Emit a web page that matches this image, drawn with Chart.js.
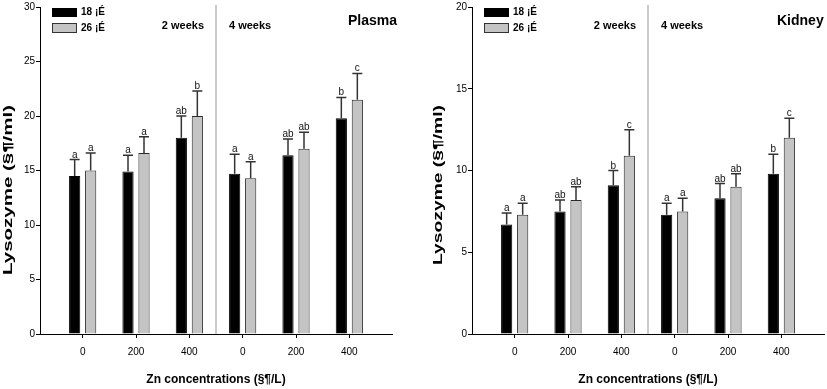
<!DOCTYPE html>
<html>
<head>
<meta charset="utf-8">
<script src="https://cdn.jsdelivr.net/npm/chart.js@4.4.0/dist/chart.umd.min.js"></script>
<style>
body { margin:0; background:#fff; width:827px; height:389px; overflow:hidden; position:relative; }
canvas { position:absolute; top:0; }
#plasma { left:0; }
#kidney { left:413px; }
</style>
</head>
<body>
<canvas id="plasma" width="413" height="389"></canvas>
<canvas id="kidney" width="414" height="389"></canvas>
<script>
// x categories: 3 Zn levels at 2 weeks, then at 4 weeks
var znLabels = ['0', '200', '400', '0', '200', '400'];
var seriesNames = ['18 \u00a1\u00c9', '26 \u00a1\u00c9'];
var periodNames = ['2 weeks', '4 weeks'];

// plasma lysozyme
var plasma18 = [14.5, 14.9, 18.0, 14.7, 16.4, 19.8];
var plasma18Err = [1.5, 1.5, 2.0, 1.8, 1.5, 1.9];
var plasma18Sig = ['a', 'a', 'ab', 'a', 'ab', 'b'];
var plasma26 = [15.0, 16.6, 20.0, 14.3, 17.0, 21.5];
var plasma26Err = [1.6, 1.5, 2.3, 1.5, 1.5, 2.4];
var plasma26Sig = ['a', 'a', 'b', 'a', 'ab', 'c'];

// kidney lysozyme
var kidney18 = [6.7, 7.5, 9.1, 7.3, 8.3, 9.8];
var kidney18Err = [0.7, 0.7, 0.9, 0.7, 0.9, 1.2];
var kidney18Sig = ['a', 'ab', 'b', 'a', 'ab', 'b'];
var kidney26 = [7.3, 8.2, 10.9, 7.5, 9.0, 12.0];
var kidney26Err = [0.7, 0.8, 1.6, 0.8, 0.8, 1.2];
var kidney26Sig = ['a', 'ab', 'c', 'a', 'ab', 'c'];

var FONT = "'Liberation Sans', Arial, sans-serif";

function toPoints(arr) {
	return arr.map(function(v, i) { return {x: i, y: v}; });
}

// error bars (upper only) + significance letters
var errorBarPlugin = {
	id: 'errorBars',
	afterDatasetsDraw: function(chart) {
		var ctx = chart.ctx;
		var yScale = chart.scales.y;
		ctx.save();
		chart.data.datasets.forEach(function(ds, di) {
			var meta = chart.getDatasetMeta(di);
			meta.data.forEach(function(bar, i) {
				var v = ds.data[i].y;
				var yTop = yScale.getPixelForValue(v + ds.err[i]);
				ctx.strokeStyle = '#333';
				ctx.lineWidth = 1.5;
				ctx.beginPath();
				ctx.moveTo(bar.x, bar.y);
				ctx.lineTo(bar.x, yTop);
				ctx.moveTo(bar.x - 5, yTop);
				ctx.lineTo(bar.x + 5, yTop);
				ctx.stroke();
				ctx.fillStyle = '#111';
				ctx.font = '10px ' + FONT;
				ctx.textAlign = 'center';
				ctx.textBaseline = 'alphabetic';
				ctx.fillText(ds.sig[i], bar.x, yTop - 2);
			});
		});
		ctx.restore();
	}
};

// divider, legend, period labels, panel name, y title
var decorPlugin = {
	id: 'decor',
	beforeDatasetsDraw: function(chart, args, opts) {
		var ctx = chart.ctx;
		var area = chart.chartArea;
		var xd = chart.scales.x.getPixelForValue(2.5);
		ctx.save();
		ctx.strokeStyle = '#999';
		ctx.lineWidth = 1;
		ctx.beginPath();
		ctx.moveTo(xd, area.top - 2);
		ctx.lineTo(xd, area.bottom);
		ctx.stroke();
		ctx.restore();
	},
	afterDraw: function(chart, args, opts) {
		var ctx = chart.ctx;
		var area = chart.chartArea;
		var xd = chart.scales.x.getPixelForValue(2.5);
		ctx.save();

		// legend
		var lx = area.left + 12;
		ctx.fillStyle = '#000';
		ctx.fillRect(lx, 8, 25, 9);
		ctx.fillStyle = '#c4c4c4';
		ctx.fillRect(lx, 23, 25, 10);
		ctx.strokeStyle = '#333';
		ctx.lineWidth = 1;
		ctx.strokeRect(lx + 0.5, 23.5, 24, 9);
		ctx.fillStyle = '#000';
		ctx.font = 'bold 10px ' + FONT;
		ctx.textAlign = 'left';
		ctx.textBaseline = 'middle';
		ctx.fillText(seriesNames[0], lx + 29, 12.5);
		ctx.fillText(seriesNames[1], lx + 29, 28.5);

		// period labels
		ctx.font = 'bold 11px ' + FONT;
		ctx.textAlign = 'right';
		ctx.fillText(periodNames[0], xd - 12, 26);
		ctx.textAlign = 'left';
		ctx.fillText(periodNames[1], xd + 13, 26);

		// panel name
		ctx.font = 'bold 14px ' + FONT;
		ctx.textAlign = 'left';
		ctx.fillText(opts.name, opts.nameX, 21);

		// y title, stretched along the axis like the original
		ctx.translate(opts.titleX, opts.titleY);
		ctx.rotate(-Math.PI / 2);
		ctx.font = 'bold 12px ' + FONT;
		var w = ctx.measureText(opts.yTitle).width;
		ctx.scale(opts.titleLen / w, 1);
		ctx.textAlign = 'center';
		ctx.fillText(opts.yTitle, 0, 0);
		ctx.restore();
	}
};

function makeChart(id, s18, e18, g18, s26, e26, g26, yMax, axisW, padRight, decor) {
	var tickFont = {family: FONT, size: 10};
	return new Chart(document.getElementById(id), {
		type: 'bar',
		data: {
			datasets: [{
				label: seriesNames[0],
				data: toPoints(s18),
				err: e18,
				sig: g18,
				backgroundColor: '#000',
				borderColor: '#000',
				borderWidth: 1
			}, {
				label: seriesNames[1],
				data: toPoints(s26),
				err: e26,
				sig: g26,
				backgroundColor: '#c4c4c4',
				borderColor: '#2a2a2a',
				borderWidth: 1
			}]
		},
		options: {
			responsive: false,
			animation: false,
			devicePixelRatio: 1,
			categoryPercentage: 0.6,
			barPercentage: 0.7,
			layout: {padding: {top: 5, right: padRight, left: 0, bottom: 0}},
			plugins: {
				legend: {display: false},
				tooltip: {enabled: false},
				decor: decor
			},
			scales: {
				x: {
					type: 'linear',
					min: -0.8,
					max: 5.8,
					offset: false,
					afterBuildTicks: function(s) {
						s.ticks = znLabels.map(function(l, i) { return {value: i}; });
					},
					afterFit: function(s) { s.height = 55; },
					ticks: {
						callback: function(v) { return znLabels[v]; },
						font: tickFont,
						color: '#000',
						padding: 8,
						autoSkip: false,
						maxRotation: 0
					},
					grid: {offset: false, drawOnChartArea: false, tickLength: 4, color: '#000'},
					border: {color: '#000', width: 1},
					title: {
						display: true,
						text: 'Zn concentrations (\u00a7\u00b6/L)',
						font: {family: FONT, size: 12, weight: 'bold'},
						color: '#000',
						padding: {top: 0, bottom: 2}
					}
				},
				y: {
					min: 0,
					max: yMax,
					afterFit: function(s) { s.width = axisW; },
					ticks: {stepSize: 5, font: tickFont, color: '#000', padding: 1},
					grid: {drawOnChartArea: false, tickLength: 4, color: '#000'},
					border: {color: '#000', width: 1}
				}
			}
		},
		plugins: [decorPlugin, errorBarPlugin]
	});
}

makeChart('plasma', plasma18, plasma18Err, plasma18Sig, plasma26, plasma26Err, plasma26Sig,
	30, 40, 21,
	{name: 'Plasma', nameX: 348, yTitle: 'Lysozyme (\u00a7\u00b6/ml)', titleX: 9, titleY: 190, titleLen: 170});

makeChart('kidney', kidney18, kidney18Err, kidney18Sig, kidney26, kidney26Err, kidney26Sig,
	20, 59, 3,
	{name: 'Kidney', nameX: 364, yTitle: 'Lysozyme (\u00a7\u00b6/ml)', titleX: 26, titleY: 185, titleLen: 160});
</script>
</body>
</html>
